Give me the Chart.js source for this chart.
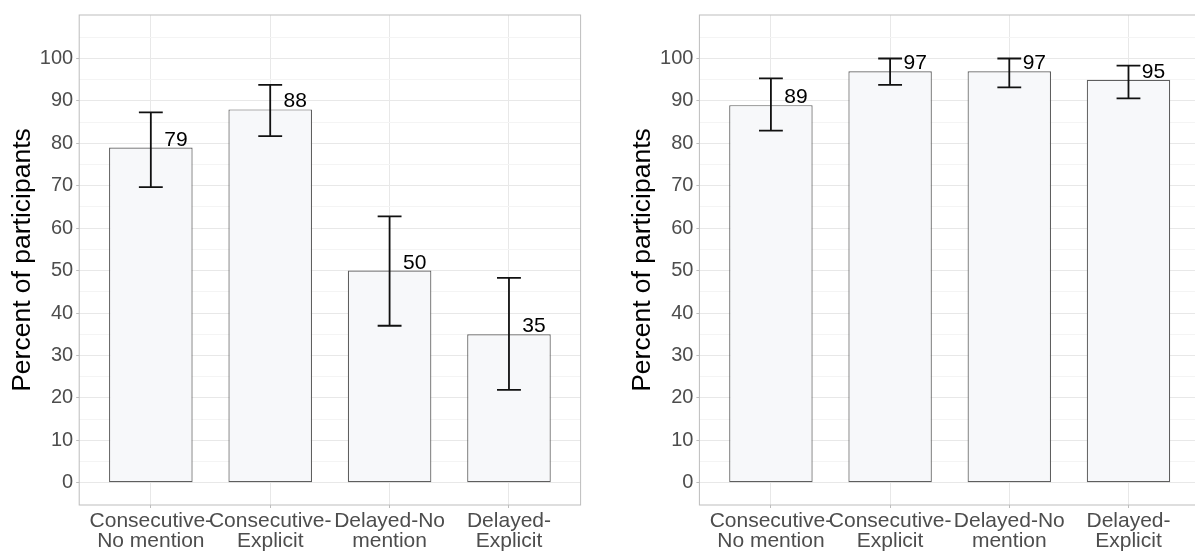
<!DOCTYPE html>
<html lang="en">

<head>
    <title>Percent of participants</title>
    <script src="https://cdn.jsdelivr.net/npm/chart.js"></script>
    <style>
        html, body { margin: 0; padding: 0; background: #fff; overflow: hidden; }
        body { width: 1195px; height: 555px; position: relative; }
        canvas { position: absolute; top: 0; }
    </style>
</head>

<body>
    <canvas id="leftChart" width="597" height="555" style="left:0"></canvas>
    <canvas id="rightChart" width="610" height="555" style="left:597px"></canvas>

    <script type="text/javascript">

        const categories = [
            ['Consecutive-', 'No mention'],
            ['Consecutive-', 'Explicit'],
            ['Delayed-No', 'mention'],
            ['Delayed-', 'Explicit']
        ];
        const yTicks = [0, 10, 20, 30, 40, 50, 60, 70, 80, 90, 100];

        // left panel
        const leftValues = [79, 88, 50, 35];
        const leftLower = [69.7, 81.7, 37, 21.9];
        const leftUpper = [87.3, 93.8, 62.8, 48.3];

        // right panel
        const rightValues = [89, 97, 97, 95];
        const rightLower = [83, 93.8, 93.2, 90.6];
        const rightUpper = [95.3, 100, 100, 98.3];

        const FONT = "'Liberation Sans', Arial, sans-serif";

        // error bars, value labels and the panel frame
        const errorBars = {
            id: 'errorBars',
            afterDatasetsDraw(chart, args, options) {
                const { ctx, chartArea: { left, top, width, height } } = chart;
                const xs = chart.scales.x, ys = chart.scales.y;
                const unit = xs.getPixelForValue(2) - xs.getPixelForValue(1);
                ctx.save();
                ctx.strokeStyle = '#111';
                ctx.lineWidth = 1.8;
                options.values.forEach((v, i) => {
                    const x = xs.getPixelForValue(i + 1);
                    const yl = ys.getPixelForValue(options.lower[i]);
                    const yu = ys.getPixelForValue(options.upper[i]);
                    const cap = unit * 0.1;
                    ctx.beginPath();
                    ctx.moveTo(x, yl); ctx.lineTo(x, yu);
                    ctx.moveTo(x - cap, yl); ctx.lineTo(x + cap, yl);
                    ctx.moveTo(x - cap, yu); ctx.lineTo(x + cap, yu);
                    ctx.stroke();

                    ctx.fillStyle = '#000';
                    ctx.font = '21px ' + FONT;
                    ctx.textAlign = 'center';
                    ctx.textBaseline = 'alphabetic';
                    ctx.fillText(String(v), x + unit * 0.21, ys.getPixelForValue(v) - 2);
                });
                ctx.strokeStyle = '#bdbdbd';
                ctx.lineWidth = 1;
                ctx.strokeRect(left, top, width, height);
                ctx.restore();
            }
        };

        function makePanel(id, values, lower, upper, yWidth, titlePad, rightPad) {
            const ctx = document.getElementById(id);
            return new Chart(ctx, {
                type: 'bar',
                data: {
                    datasets: [{
                        data: values.map((v, i) => ({ x: i + 1, y: v })),
                        backgroundColor: '#f7f8fa',
                        borderColor: '#5e5e5e',
                        borderWidth: 1.2,
                        borderSkipped: false,
                        categoryPercentage: 1,
                        barPercentage: 0.7
                    }]
                },
                options: {
                    responsive: false,
                    animation: false,
                    layout: { padding: { top: 11.5, right: rightPad, bottom: 0, left: 0 } },
                    plugins: {
                        legend: { display: false },
                        tooltip: { enabled: false },
                        errorBars: { values: values, lower: lower, upper: upper }
                    },
                    scales: {
                        x: {
                            type: 'linear',
                            min: 0.4,
                            max: 4.6,
                            offset: false,
                            afterBuildTicks: s => { s.ticks = [1, 2, 3, 4].map(v => ({ value: v })); },
                            afterFit: s => { s.height = 50; },
                            grid: { offset: false, color: '#e8e8e8', tickColor: '#bdbdbd', tickLength: 3 },
                            border: { display: false },
                            ticks: {
                                autoSkip: false,
                                maxRotation: 0,
                                padding: 3,
                                color: '#4d4d4d',
                                font: { family: FONT, size: 21, lineHeight: 0.95 },
                                callback: v => categories[v - 1]
                            }
                        },
                        y: {
                            min: -5.25,
                            max: 110.25,
                            afterBuildTicks: s => {
                                const t = [];
                                for (let v = 0; v <= 105; v += 5) t.push({ value: v });
                                s.ticks = t;
                            },
                            afterFit: s => { s.width = yWidth; },
                            grid: {
                                color: c => (c.tick && c.tick.value % 10 === 0) ? '#e8e8e8' : '#f4f4f4',
                                tickColor: c => (c.tick && yTicks.includes(c.tick.value)) ? '#bdbdbd' : 'rgba(0,0,0,0)',
                                tickLength: 3
                            },
                            border: { display: false },
                            ticks: {
                                autoSkip: false,
                                padding: 3,
                                color: '#4d4d4d',
                                font: { family: FONT, size: 20 },
                                callback: v => yTicks.includes(v) ? String(v) : ''
                            },
                            title: {
                                display: true,
                                text: 'Percent of participants',
                                color: '#000',
                                font: { family: FONT, size: 26.5 },
                                padding: { top: titlePad, bottom: 0 }
                            }
                        }
                    }
                },
                plugins: [errorBars]
            });
        }

        makePanel('leftChart', leftValues, leftLower, leftUpper, 79.2, 7, 16.4);
        makePanel('rightChart', rightValues, rightLower, rightUpper, 102.4, 30, 7);
    </script>
</body>

</html>
